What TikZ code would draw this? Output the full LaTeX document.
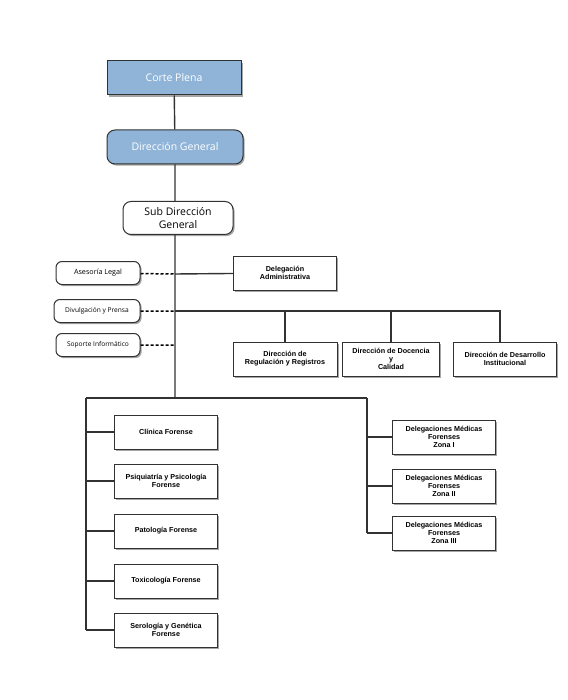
\documentclass[tikz,border=0pt]{standalone}
\usepackage{fontspec}
\setmainfont{Liberation Sans}
\newfontfamily\headfont{Open Sans}
\usepackage{xcolor}
\usepackage{tikz}
\usetikzlibrary{shadows}
\definecolor{boxblue}{RGB}{143,180,216}
\definecolor{linegray}{RGB}{50,50,50}

\begin{document}
\begin{tikzpicture}[x=1pt,y=-1pt,
	unitbox/.style={draw=linegray,fill=white,line width=1pt,
		drop shadow={shadow xshift=1.6pt,shadow yshift=-1.6pt,opacity=0.7},
		minimum width=103pt,minimum height=34pt,align=center,inner sep=1pt,
		font=\bfseries\fontsize{7.2}{8.2}\selectfont},
	headbox/.style={unitbox,fill=boxblue,text=white,minimum width=134pt,
		font=\headfont\fontsize{10.5}{12.5}\selectfont},
	sidebox/.style={unitbox,rounded corners=6pt,minimum width=84pt,minimum height=23pt,
		font=\headfont\fontsize{6.6}{7.5}\selectfont},
	link/.style={draw=linegray,line width=1.4pt},
	dotlink/.style={draw=black,line width=1.5pt,dash pattern=on 3pt off 2pt}]
	\useasboundingbox (0,0) rectangle (567,700);
	% top of the chart
	\node[headbox] (CP) at (174,78) {Corte Plena};
	\node[headbox,rounded corners=8pt,minimum width=136pt] (DG) at (175,147) {Direcci\'on General};
	\node[unitbox,rounded corners=8pt,minimum width=110pt,minimum height=33pt,
		font=\headfont\fontsize{10.5}{12.5}\selectfont] (SDG) at (178,218) {Sub Direcci\'on\\General};
	%
	\node[sidebox,font=\headfont\fontsize{7.2}{8}\selectfont] (AL) at (98,273) {Asesor\'ia Legal};
	\node[sidebox,minimum width=86pt] (DP) at (97,311) {Divulgaci\'on y Prensa};
	\node[sidebox] (SI) at (98,345) {Soporte Inform\'atico};
	%
	\node[unitbox] (DA) at (285,273) {Delegaci\'on\\Administrativa};
	\node[unitbox,minimum width=104pt] (DRR) at (285,359) {Direcci\'on de\\Regulaci\'on y Registros};
	\node[unitbox,minimum width=97pt] (DDC) at (391,359) {Direcci\'on de Docencia\\y\\Calidad};
	\node[unitbox] (DDI) at (505,359) {Direcci\'on de Desarrollo\\Institucional};
	% forensic units
	\node[unitbox] (CF) at (166,432) {Cl\'inica Forense};
	\node[unitbox] (PP) at (166,481) {Psiquiatr\'ia y Psicolog\'ia\\Forense};
	\node[unitbox] (PF) at (166,531) {Patolog\'ia Forense};
	\node[unitbox] (TF) at (166,581) {Toxicolog\'ia Forense};
	\node[unitbox] (SG) at (166,630) {Serolog\'ia y Gen\'etica\\Forense};
	%
	\node[unitbox] (Z1) at (444,437) {Delegaciones M\'edicas\\Forenses\\Zona I};
	\node[unitbox] (Z2) at (444,486) {Delegaciones M\'edicas\\Forenses\\Zona II};
	\node[unitbox] (Z3) at (444,533) {Delegaciones M\'edicas\\Forenses\\Zona III};
	%
	\coordinate (M1) at (175,274);
	\coordinate (M2) at (175,311);
	\coordinate (M3) at (175,345);
	\coordinate (M4) at (175,398);
	\coordinate (L) at (86,398);
	\coordinate (R) at (367,398);
	\coordinate (T) at (500,311);
	% vertical lines
	\path[link] (CP) -- (DG) (DG.south -| M4) -- (SDG.north -| M4) (SDG.south -| M4) -- (M4);
	\path[link] (L) -- (R) (L) -- (L |- SG) (R) -- (R |- Z3);
	\path[link] (M2) -- (T) -- (DDI.north -| T)
		(DRR.north |- M2) -- (DRR.north) (DDC.north |- M2) -- (DDC.north);
	\path[link] (M1) -- (DA);
	% dotted links to the staff units
	\path[dotlink] (AL) -- (M1) (DP) -- (M2) (SI) -- (M3);
	% horizontal branches
	\foreach \n in {CF,PP,PF,TF,SG}
		\path[link] (L |- \n) -- (\n);
	\foreach \n in {Z1,Z2,Z3}
		\path[link] (R |- \n) -- (\n);
\end{tikzpicture}
\end{document}
